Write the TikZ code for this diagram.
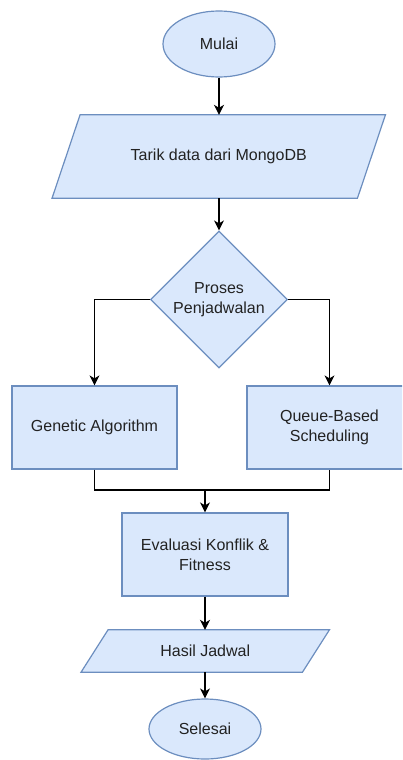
\documentclass[tikz,border=0pt]{standalone}
\usepackage{fontspec}
\setmainfont{Liberation Sans}
\usetikzlibrary{shapes.geometric,arrows.meta}
\definecolor{boxfill}{HTML}{DAE8FC}
\definecolor{boxline}{HTML}{6C8EBF}
\definecolor{txt}{HTML}{222222}
\begin{document}
\begin{tikzpicture}[x=1pt,y=-1pt,
  every node/.style={font=\fontsize{16}{20}\selectfont, text=txt, align=center, inner sep=0pt},
  shp/.style={draw=boxline, fill=boxfill, line width=1.2pt},
  termbox/.style={shp, ellipse},
  procbox/.style={shp, rectangle},
  decbox/.style={shp, diamond, aspect=1},
  iobox/.style={draw=none, rectangle},
  arr/.style={draw=black, line width=1.2pt, -{Stealth[length=10pt,width=10pt,inset=3pt]}},
  ln/.style={draw=black, line width=1.2pt}]
\useasboundingbox (0,0) rectangle (402,760);
\clip (0,0) rectangle (402,760);

\node[termbox, minimum width=112, minimum height=66] (mulai) at (219,44) {Mulai};

\node[iobox, minimum width=305, minimum height=83] (tarik) at (218.75,156.5) {Tarik data dari MongoDB};
\path[shp] ([xshift=14pt]tarik.north west) -- ([xshift=14pt]tarik.north east)
  -- ([xshift=-14pt]tarik.south east) -- ([xshift=-14pt]tarik.south west) -- cycle;
\node at (tarik) {Tarik data dari MongoDB};

\node[decbox, minimum width=137, minimum height=137] (proses) at (219,299.5) {Proses\\Penjadwalan};

\node[procbox, minimum width=165, minimum height=83] (ga) at (94.5,427.5) {Genetic Algorithm};
\node[procbox, minimum width=165, minimum height=83] (qb) at (329.5,427.5) {Queue-Based\\Scheduling};

\node[procbox, minimum width=166, minimum height=83] (eval) at (205,554.5) {Evaluasi Konflik \&\\Fitness};

\node[iobox, minimum width=221, minimum height=42] (hasil) at (205.25,651) {Hasil Jadwal};
\path[shp] ([xshift=13.5pt]hasil.north west) -- ([xshift=13.5pt]hasil.north east)
  -- ([xshift=-13.5pt]hasil.south east) -- ([xshift=-13.5pt]hasil.south west) -- cycle;
\node at (hasil) {Hasil Jadwal};

\node[termbox, minimum width=112, minimum height=60] (selesai) at (205,729) {Selesai};

\coordinate (j) at (205,490);

\draw[arr] (mulai.south) -- (mulai.south |- tarik.north);
\draw[arr] (tarik.south -| proses.north) -- (proses.north);
\draw[arr] (proses.west) -| (ga.north);
\draw[arr] (proses.east) -| (qb.north);
\draw[ln] (ga.south) -- (ga.south |- j) -- (qb.south |- j) -- (qb.south);
\draw[arr] (j) -- (eval.north);
\draw[arr] (eval.south) -- (eval.south |- hasil.north);
\draw[arr] (hasil.south -| selesai.north) -- (selesai.north);
\end{tikzpicture}
\end{document}
